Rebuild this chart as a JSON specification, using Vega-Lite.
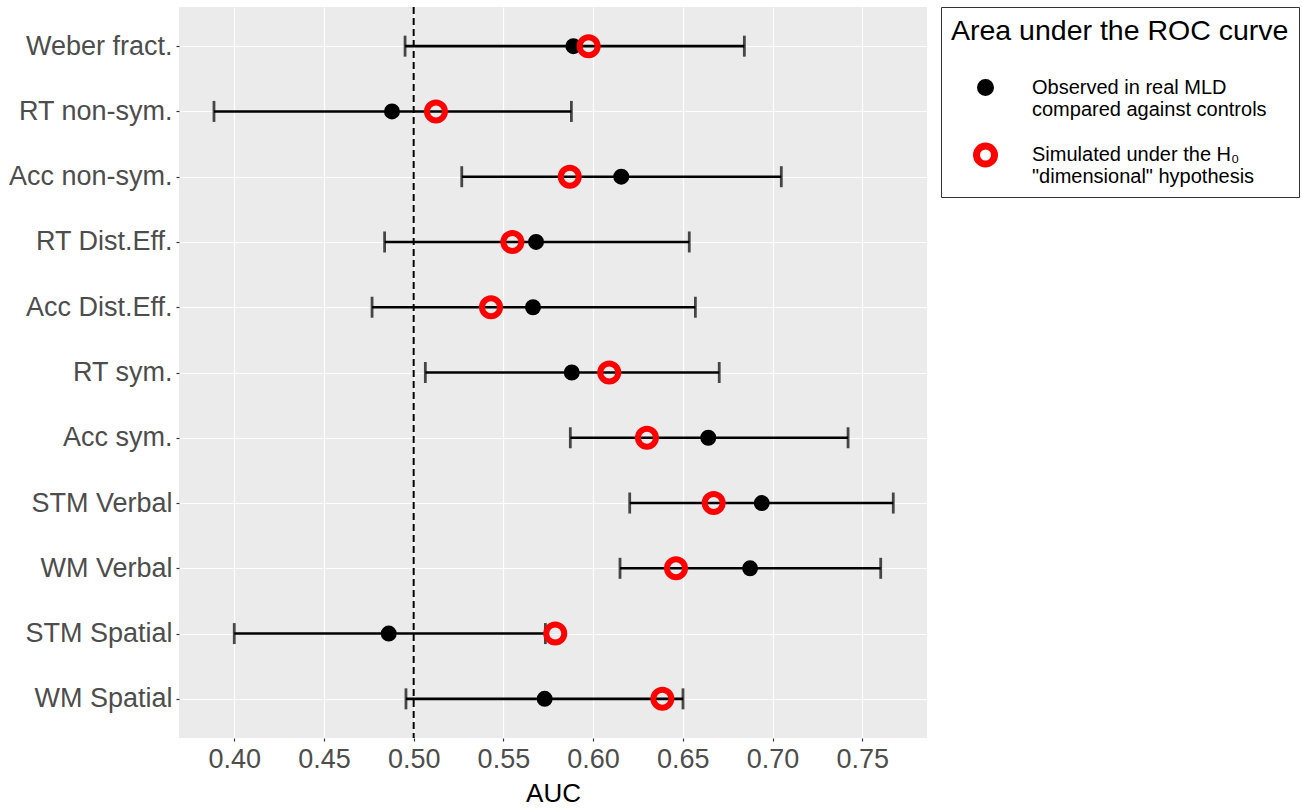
{
  "$schema": "https://vega.github.io/schema/vega-lite/v6.json",
  "width": 748,
  "height": 731,
  "autosize": "none",
  "padding": {"left": 179, "top": 7, "right": 375, "bottom": 72},
  "background": "white",
  "config": {
    "font": "Liberation Sans",
    "view": {"fill": "#EBEBEB", "stroke": null},
    "axis": {
      "domain": false,
      "grid": true,
      "tickColor": "#333333",
      "tickSize": 3,
      "tickWidth": 1.2,
      "labelColor": "#4D4D4D",
      "labelFont": "Liberation Sans",
      "labelFontSize": 27,
      "gridColor": "#FFFFFF",
      "gridWidth": 1.2,
      "titleFont": "Liberation Sans",
      "titleFontSize": 26,
      "titleFontWeight": "normal",
      "titleColor": "#000000"
    },
    "axisX": {"labelPadding": 5, "titlePadding": 8},
    "axisY": {"labelPadding": 4, "grid": true}
  },
  "datasets": {
    "auc": [
      {"label": "Weber fract.", "lo": 0.4952, "hi": 0.6843, "obs": 0.5890, "sim": 0.5975},
      {"label": "RT non-sym.", "lo": 0.3887, "hi": 0.5879, "obs": 0.4879, "sim": 0.5124},
      {"label": "Acc non-sym.", "lo": 0.5268, "hi": 0.7049, "obs": 0.6157, "sim": 0.5870},
      {"label": "RT Dist.Eff.", "lo": 0.4838, "hi": 0.6536, "obs": 0.5682, "sim": 0.5550},
      {"label": "Acc Dist.Eff.", "lo": 0.4768, "hi": 0.6570, "obs": 0.5665, "sim": 0.5431},
      {"label": "RT sym.", "lo": 0.5065, "hi": 0.6703, "obs": 0.5881, "sim": 0.6090},
      {"label": "Acc sym.", "lo": 0.5873, "hi": 0.7421, "obs": 0.6642, "sim": 0.6300},
      {"label": "STM Verbal", "lo": 0.6204, "hi": 0.7673, "obs": 0.6940, "sim": 0.6672},
      {"label": "WM Verbal", "lo": 0.6150, "hi": 0.7603, "obs": 0.6875, "sim": 0.6462},
      {"label": "STM Spatial", "lo": 0.4000, "hi": 0.5734, "obs": 0.4861, "sim": 0.5789},
      {"label": "WM Spatial", "lo": 0.4957, "hi": 0.6501, "obs": 0.5730, "sim": 0.6386}
    ],
    "chance": [{"ref": 0.5}]
  },
  "layer": [
    {
      "data": {"name": "auc"},
      "mark": {"type": "rule", "color": "black", "strokeWidth": 2.6},
      "encoding": {
        "x": {"field": "lo", "type": "quantitative", "title": "AUC",
              "scale": {"domain": [0.3692, 0.7861], "nice": false, "zero": false},
              "axis": {"values": [0.4, 0.45, 0.5, 0.55, 0.6, 0.65, 0.7, 0.75], "format": ".2f"}},
        "x2": {"field": "hi"},
        "y": {"field": "label", "type": "nominal", "sort": null, "title": null,
              "scale": {"type": "point", "padding": 0.6},
              "axis": {"grid": true}}
      }
    },
    {
      "data": {"name": "chance"},
      "mark": {"type": "rule", "color": "black", "strokeWidth": 2, "strokeDash": [7, 4]},
      "encoding": {
        "x": {"field": "ref", "type": "quantitative", "title": "AUC",
              "scale": {"domain": [0.3692, 0.7861], "nice": false, "zero": false}}
      }
    },
    {
      "data": {"name": "auc"},
      "mark": {"type": "tick", "orient": "vertical", "size": 21, "thickness": 2.8, "color": "black"},
      "encoding": {
        "x": {"field": "lo", "type": "quantitative", "title": "AUC",
              "scale": {"domain": [0.3692, 0.7861], "nice": false, "zero": false}},
        "y": {"field": "label", "type": "nominal", "sort": null, "title": null}
      }
    },
    {
      "data": {"name": "auc"},
      "mark": {"type": "tick", "orient": "vertical", "size": 21, "thickness": 2.8, "color": "black"},
      "encoding": {
        "x": {"field": "hi", "type": "quantitative", "title": "AUC",
              "scale": {"domain": [0.3692, 0.7861], "nice": false, "zero": false}},
        "y": {"field": "label", "type": "nominal", "sort": null, "title": null}
      }
    },
    {
      "data": {"name": "auc"},
      "transform": [{"fold": ["obs", "sim"], "as": ["series", "value"]}],
      "mark": {"type": "point", "shape": "circle", "opacity": 1, "strokeWidth": 6},
      "encoding": {
        "x": {"field": "value", "type": "quantitative", "title": "AUC",
              "scale": {"domain": [0.3692, 0.7861], "nice": false, "zero": false}},
        "y": {"field": "label", "type": "nominal", "sort": null, "title": null},
        "fill": {"field": "series", "type": "nominal", "title": "Area under the ROC curve",
                 "scale": {"domain": ["obs", "sim"], "range": ["#000000", "transparent"]},
                 "legend": {
                   "orient": "none", "legendX": 762, "legendY": 0,
                   "strokeColor": "#333333", "padding": 10,
                   "titleFontSize": 28.5, "titleFontWeight": "normal", "titleColor": "#000000",
                   "titleFont": "Liberation Sans", "titlePadding": 32, "titleLimit": 500,
                   "labelFontSize": 20, "labelColor": "#000000", "labelFont": "Liberation Sans",
                   "labelLimit": 400, "labelOffset": 34, "symbolOffset": 22, "rowPadding": 12,
                   "symbolStrokeWidth": 7,
                   "labelExpr": "datum.label === 'obs' ? ['Observed in real MLD', 'compared against controls'] : ['Simulated under the H₀', '\"dimensional\" hypothesis']",
                   "encode": {
                     "labels": {"update": {"lineHeight": {"value": 22}}}
                   }
                 }},
        "stroke": {"field": "series", "type": "nominal", "title": "Area under the ROC curve",
                   "scale": {"domain": ["obs", "sim"], "range": ["#000000", "#FF0000"]}},
        "size": {"field": "series", "type": "nominal", "title": "Area under the ROC curve",
                 "scale": {"type": "ordinal", "domain": ["obs", "sim"], "range": [100, 324]}}
      }
    }
  ]
}
